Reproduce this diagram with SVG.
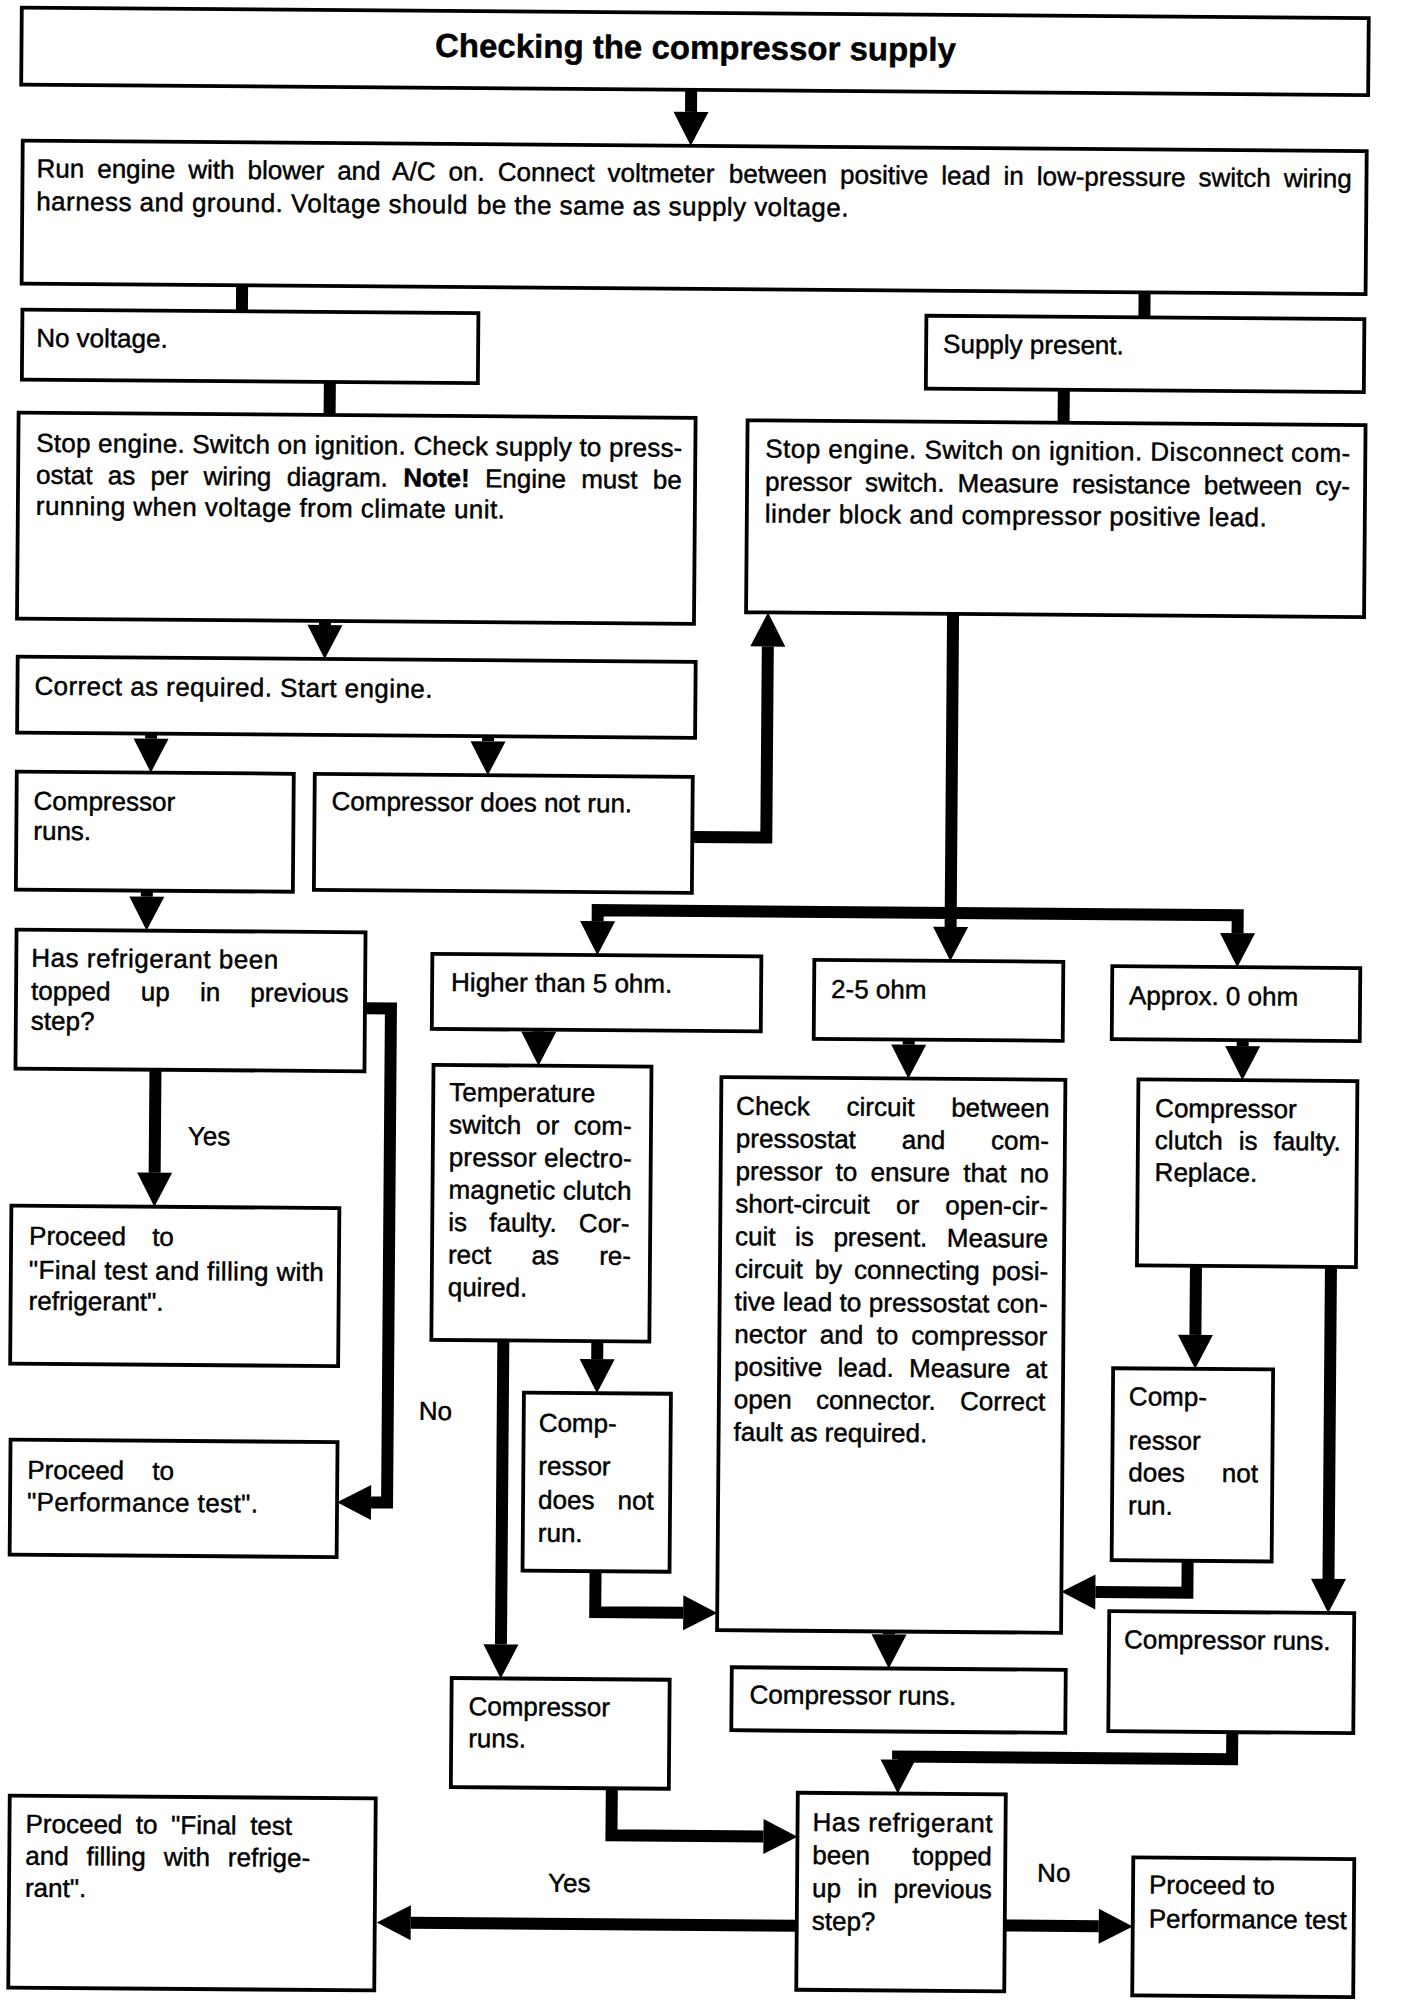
<svg xmlns="http://www.w3.org/2000/svg" width="1408" height="2006" viewBox="0 0 1408 2006">
<style>
.box{fill:#fff;stroke:#000;stroke-width:3.8}
.t{font-family:"Liberation Sans",Arial,Helvetica,sans-serif;font-size:26px;fill:#000;stroke:#000;stroke-width:0.45}
.title{font-weight:bold;font-size:33px}
.ln{fill:none;stroke:#000;stroke-width:12;stroke-linejoin:miter;stroke-linecap:butt}
.arr{marker-end:url(#ah)}
</style>
<defs>
<marker id="ah" markerUnits="userSpaceOnUse" markerWidth="36" markerHeight="36" viewBox="0 0 36 36" refX="0" refY="18" orient="auto" overflow="visible">
<path d="M0,0.5 L34,18 L0,35.5 Z" fill="#000"/>
</marker>
</defs>
<rect width="1408" height="2006" fill="#fff"/>
<g transform="rotate(0.45 704 1003)">
<g id="n-title"><rect class="box" x="14" y="13" width="1347" height="77"/><text class="t title" x="688" y="59" text-anchor="middle">Checking the compressor supply</text></g>
<g id="n-run"><rect class="box" x="16" y="146" width="1344" height="143"/>
<text class="t" x="30" y="182.5" word-spacing="5.8">Run engine with blower and A/C on. Connect voltmeter</text>
<text class="t" x="722.3" y="182.5" word-spacing="5.8">between positive lead in low-pressure switch wiring</text>
<text class="t" x="30" y="215.5" letter-spacing="0.45">harness and ground. Voltage should</text>
<text class="t" x="470.7" y="215.5" letter-spacing="0.45">be the same as supply voltage.</text></g>
<g id="n-novolt"><rect class="box" x="17" y="315" width="456" height="70"/><text class="t" x="31" y="352">No voltage.</text></g>
<g id="n-supply"><rect class="box" x="921" y="314" width="438" height="73"/><text class="t" x="938" y="351">Supply present.</text></g>
<g id="n-stopL"><rect class="box" x="14" y="418" width="677" height="206"/>
<text class="t" x="32" y="457" textLength="646" lengthAdjust="spacing">Stop engine. Switch on ignition. Check supply to press-</text>
<text class="t" x="32" y="489" word-spacing="8.1">ostat as per wiring diagram. <tspan font-weight="bold">Note!</tspan> Engine must be</text>
<text class="t" x="32" y="520" textLength="469" lengthAdjust="spacing">running when voltage from climate unit.</text></g>
<g id="n-stopR"><rect class="box" x="743" y="420" width="618" height="192"/>
<text class="t" x="761" y="457" textLength="585" lengthAdjust="spacing">Stop engine. Switch on ignition. Disconnect com-</text>
<text class="t" x="761" y="490" word-spacing="6">pressor switch. Measure resistance between cy-</text>
<text class="t" x="761" y="522" textLength="502" lengthAdjust="spacing">linder block and compressor positive lead.</text></g>
<g id="n-correct"><rect class="box" x="15" y="662" width="678" height="76"/><text class="t" x="32" y="700" textLength="398" lengthAdjust="spacing">Correct as required. Start engine.</text></g>
<g id="n-runs1"><rect class="box" x="15" y="777" width="277" height="118"/><text class="t" x="32" y="815">Compressor</text><text class="t" x="32" y="845">runs.</text></g>
<g id="n-notrun1"><rect class="box" x="313" y="777" width="378" height="116"/><text class="t" x="330" y="813">Compressor does not run.</text></g>
<g id="n-hasref1"><rect class="box" x="16" y="935" width="349" height="139"/>
<text class="t" x="31" y="972" textLength="247" lengthAdjust="spacing">Has refrigerant been</text>
<text class="t" x="31" y="1005" word-spacing="23">topped up in previous</text>
<text class="t" x="31" y="1035">step?</text></g>
<g id="n-higher"><rect class="box" x="432" y="956" width="329" height="75"/><text class="t" x="451" y="993">Higher than 5 ohm.</text></g>
<g id="n-25"><rect class="box" x="814" y="959" width="249" height="79"/><text class="t" x="831" y="997">2-5 ohm</text></g>
<g id="n-approx"><rect class="box" x="1112" y="963" width="248" height="73"/><text class="t" x="1129" y="1001">Approx. 0 ohm</text></g>
<g id="n-temp"><rect class="box" x="434" y="1067" width="218" height="275"/>
<text class="t" x="450" y="1103">Temperature</text>
<text class="t" x="450" y="1135.5" word-spacing="7.5">switch or com-</text>
<text class="t" x="450" y="1168" textLength="183" lengthAdjust="spacing">pressor electro-</text>
<text class="t" x="450" y="1200.5" textLength="183" lengthAdjust="spacing">magnetic clutch</text>
<text class="t" x="450" y="1233" word-spacing="15">is faulty. Cor-</text>
<text class="t" x="450" y="1265.5" word-spacing="33">rect as re-</text>
<text class="t" x="450" y="1298">quired.</text></g>
<g id="n-check"><rect class="box" x="722" y="1077" width="344" height="553"/>
<text class="t" x="737" y="1114.5" word-spacing="29.5">Check circuit between</text>
<text class="t" x="737" y="1147.1" word-spacing="38.7">pressostat and com-</text>
<text class="t" x="737" y="1179.7" word-spacing="6">pressor to ensure that no</text>
<text class="t" x="737" y="1212.3" word-spacing="19">short-circuit or open-cir-</text>
<text class="t" x="737" y="1244.9" word-spacing="12.3">cuit is present. Measure</text>
<text class="t" x="737" y="1277.5" word-spacing="4.7">circuit by connecting posi-</text>
<text class="t" x="737" y="1310.1" textLength="313" lengthAdjust="spacing">tive lead to pressostat con-</text>
<text class="t" x="737" y="1342.7" word-spacing="6">nector and to compressor</text>
<text class="t" x="737" y="1375.3" word-spacing="8">positive lead. Measure at</text>
<text class="t" x="737" y="1407.9" word-spacing="17">open connector. Correct</text>
<text class="t" x="737" y="1440.5">fault as required.</text></g>
<g id="n-clutch"><rect class="box" x="1139" y="1076" width="219" height="186"/>
<text class="t" x="1156" y="1113.5">Compressor</text>
<text class="t" x="1156" y="1145.5" word-spacing="8.7">clutch is faulty.</text>
<text class="t" x="1156" y="1177.5">Replace.</text></g>
<g id="n-final1"><rect class="box" x="13" y="1211" width="328" height="158"/>
<text class="t" x="31" y="1250" word-spacing="19">Proceed to</text>
<text class="t" x="31" y="1284" textLength="295" lengthAdjust="spacing">"Final test and filling with</text>
<text class="t" x="31" y="1315">refrigerant".</text></g>
<g id="n-notrun2"><rect class="box" x="527" y="1394" width="147" height="178"/>
<text class="t" x="542" y="1433">Comp-</text>
<text class="t" x="542" y="1476">ressor</text>
<text class="t" x="542" y="1510" word-spacing="16">does not</text>
<text class="t" x="542" y="1543">run.</text></g>
<g id="n-notrun3"><rect class="box" x="1116" y="1365" width="160" height="192"/>
<text class="t" x="1132" y="1402">Comp-</text>
<text class="t" x="1132" y="1446">ressor</text>
<text class="t" x="1132" y="1478" word-spacing="30">does not</text>
<text class="t" x="1132" y="1511">run.</text></g>
<g id="n-perf1"><rect class="box" x="14" y="1445" width="327" height="115"/>
<text class="t" x="31" y="1484" word-spacing="21">Proceed to</text>
<text class="t" x="31" y="1516" textLength="231" lengthAdjust="spacing">"Performance test".</text></g>
<g id="n-runsR"><rect class="box" x="1114" y="1608" width="245" height="120"/><text class="t" x="1129" y="1645">Compressor runs.</text></g>
<g id="n-runsM"><rect class="box" x="737" y="1667" width="334" height="63"/><text class="t" x="755" y="1703">Compressor runs.</text></g>
<g id="n-runsL"><rect class="box" x="457" y="1680" width="218" height="109"/><text class="t" x="474" y="1717">Compressor</text><text class="t" x="474" y="1749">runs.</text></g>
<g id="n-hasref2"><rect class="box" x="804" y="1792" width="208" height="197"/>
<text class="t" x="819" y="1830" textLength="180" lengthAdjust="spacing">Has refrigerant</text>
<text class="t" x="819" y="1863" word-spacing="35">been topped</text>
<text class="t" x="819" y="1896" word-spacing="9">up in previous</text>
<text class="t" x="819" y="1929">step?</text></g>
<g id="n-final2"><rect class="box" x="16" y="1801" width="366" height="192"/>
<text class="t" x="32" y="1838" word-spacing="6.3">Proceed to "Final test</text>
<text class="t" x="32" y="1870" word-spacing="10.7">and filling with refrige-</text>
<text class="t" x="32" y="1902">rant".</text></g>
<g id="n-perf2"><text class="t" x="1156" y="1890">Proceed to</text><text class="t" x="1156" y="1924">Performance test</text><rect class="box" x="1140" y="1854" width="221" height="138" style="fill:none"/></g>
<g id="connectors">
<path class="ln arr" d="M684,90 V112"/>
<path class="ln" d="M236.5,289 V315"/>
<path class="ln" d="M1139,289 V314"/>
<path class="ln" d="M325,385 V418"/>
<path class="ln" d="M1059,387 V420"/>
<path class="ln arr" d="M322,624 V628"/>
<path class="ln arr" d="M149,738 V743"/>
<path class="ln arr" d="M486,738 V743"/>
<path class="ln arr" d="M691,837 H765 V646"/>
<path class="ln arr" d="M146,895 V901"/>
<path class="ln arr" d="M950,612 V925"/>
<path class="ln arr" d="M950,911 H597 V922"/>
<path class="ln arr" d="M950,911 H1237 V929"/>
<path class="ln arr" d="M539,1031 V1033"/>
<path class="ln arr" d="M909,1038 V1043"/>
<path class="ln arr" d="M1243,1036 V1042"/>
<path class="ln arr" d="M156,1074 V1177"/>
<path class="ln arr" d="M365,1011 H391 V1505 H375"/>
<path class="ln arr" d="M600,1342 V1360"/>
<path class="ln arr" d="M506,1342 V1646"/>
<path class="ln arr" d="M600,1572 V1613 H688"/>
<path class="ln arr" d="M1198,1262 V1331"/>
<path class="ln arr" d="M1333,1262 V1574"/>
<path class="ln arr" d="M1192,1557 V1589 H1100"/>
<path class="ln arr" d="M894,1630 V1633"/>
<path class="ln arr" d="M618,1789 V1836 H770"/>
<path class="ln arr" d="M1238,1728 V1755 H904 V1758"/>
<path class="ln arr" d="M804,1925 H418"/>
<path class="ln arr" d="M1012,1923 H1106"/>
<text class="t" x="189" y="1149">Yes</text>
<text class="t" x="422" y="1422">No</text>
<text class="t" x="555" y="1893">Yes</text>
<text class="t" x="1044" y="1879">No</text>
</g>
</g>
</svg>
